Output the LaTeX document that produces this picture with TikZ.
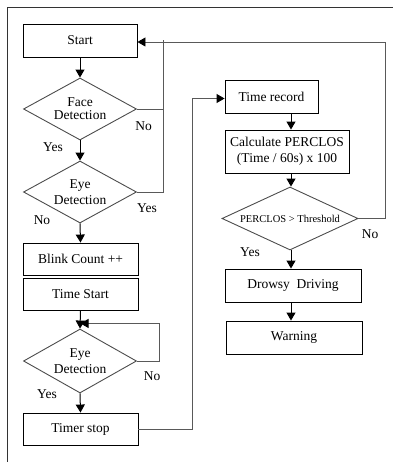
\documentclass[tikz,border=0pt]{standalone}
\usepackage{fontspec}
\setmainfont{Liberation Serif}
\usetikzlibrary{shapes.geometric,arrows.meta}
\begin{document}
\begin{tikzpicture}[x=1pt,y=-1pt,
  every node/.style={font=\fontsize{13.5}{16}\selectfont, text=black},
  box/.style={draw=black, line width=0.9pt, rectangle, inner sep=0pt, align=center},
  dia/.style={draw=black!70, line width=0.9pt, diamond, inner sep=0pt, align=center},
  conn/.style={draw=black!65, line width=0.9pt},
  tip/.style={-{Triangle[length=8pt,width=9pt,color=black,fill=black]}},
  arr/.style={draw=black, line width=1pt, tip},
  larr/.style={conn, tip},
  lab/.style={inner sep=0pt}]
\useasboundingbox (0,0) rectangle (393,462);
% partial outer frame
\draw[black!80, line width=0.9pt] (7,462) -- (7,7) -- (393,7);
% column coordinates
\coordinate (rc) at (291,0);
\coordinate (jx) at (163,0);
\coordinate (lx) at (159,0);
\coordinate (mx) at (192,0);
\coordinate (ox) at (385,0);
% left column
\node[box, minimum width=114pt, minimum height=33pt] (start) at (80,40.5) {Start};
\node[dia, minimum width=113pt, minimum height=62pt, aspect=1.82] (face) at (80,109) {\fontsize{13.5}{17}\selectfont\raisebox{-3pt}{\shortstack{Face\\[1pt]Detection}}};
\node[dia, minimum width=113pt, minimum height=62pt, aspect=1.82] (eye1) at (80,192) {\fontsize{13.5}{17}\selectfont\raisebox{-3pt}{\shortstack{Eye\\[1pt]Detection}}};
\node[box, minimum width=115pt, minimum height=32pt] (blink) at (80.5,259) {Blink Count ++};
\node[box, minimum width=115pt, minimum height=32pt] (tstart) at (80.5,294) {Time Start};
\node[dia, minimum width=113pt, minimum height=64pt, aspect=1.77] (eye2) at (80,361) {\fontsize{13.5}{17}\selectfont\raisebox{-3pt}{\shortstack{Eye\\[1pt]Detection}}};
\node[box, minimum width=115pt, minimum height=32pt] (tstop) at (80.5,429) {Timer stop};
% right column
\node[box, minimum width=93pt, minimum height=33pt] (trec) at (271.5,96.5) {Time record};
\node[box, minimum width=124pt, minimum height=43pt] (calc) at (287,151.5) {\fontsize{13.5}{14.5}\selectfont Calculate PERCLOS\\(Time / 60s) x 100};
\node[dia, minimum width=136pt, minimum height=63pt, aspect=2.16] (perc) at (290,218.5) {\fontsize{10.5}{12}\selectfont PERCLOS > Threshold};
\node[box, minimum width=136pt, minimum height=33pt] (drowsy) at (293,285.5) {Drowsy\ \ Driving};
\node[box, minimum width=136pt, minimum height=33pt] (warn) at (294,337.5) {Warning};
% labels
\node[lab] (l1) at (143.5,126) {No};
\node[lab] (l2) at (53,147) {Yes};
\node[lab] (l3) at (147,208) {Yes};
\node[lab] (l4) at (42,220) {No};
\node[lab] (l5) at (152,376) {No};
\node[lab] (l6) at (47,394) {Yes};
\node[lab] (l7) at (370,234) {No};
\node[lab] (l8) at (250,252) {Yes};
% connectors left
\draw[arr] (start.south) -- (face.north);
\draw[arr] (face.south) -- (eye1.north);
\draw[arr] (eye1.south) -- (blink.north);
\draw[arr] (tstart.south) -- (eye2.north);
\draw[arr] (eye2.south) -- (tstop.north);
\draw[conn] (face.east) -- (jx |- face.east) -- (jx |- start.east);
\draw[conn] (eye1.east) -- (jx |- eye1.east) -- (jx |- face.east);
\draw[larr] (eye2.east) -- (lx |- eye2.east) -- ([yshift=-13pt]lx |- tstart.south) -- ([yshift=-13pt]tstart.south);
% to right column
\draw[larr] (tstop.east) -- (mx |- tstop.east) -- ([yshift=-2pt]mx |- trec.west) -- ([yshift=-2pt]trec.west);
\draw[arr] (trec.south -| rc) -- (calc.north -| rc);
\draw[arr] (calc.south -| rc) -- (perc.north -| rc);
\draw[arr] (perc.south -| rc) -- (drowsy.north -| rc);
\draw[arr] (drowsy.south -| rc) -- (warn.north -| rc);
\draw[larr] (perc.east) -- (ox |- perc.east) -- ([yshift=-1.5pt]ox |- start.east) -- ([yshift=-1.5pt]start.east);
\end{tikzpicture}
\end{document}
